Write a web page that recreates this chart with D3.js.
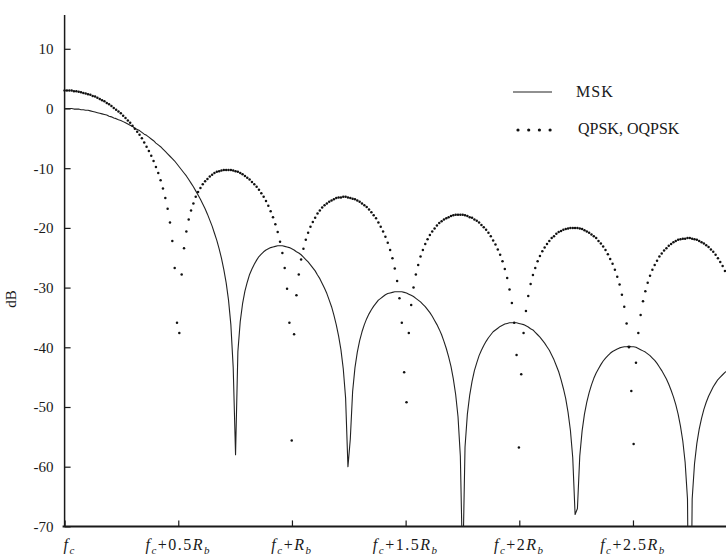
<!DOCTYPE html>
<html><head><meta charset="utf-8">
<script src="https://cdn.jsdelivr.net/npm/d3@7"></script>
<style>
body{margin:0;background:#fff;}
svg text{font-family:"Liberation Serif","Times New Roman",serif;fill:#1a1a1a;}
</style></head><body>
<svg id="chart" width="726" height="559"></svg>
<script>
// sample spacing of both spectra, in units of Rb (offset from fc)
const sampleStepRb = 0.0103;

// QPSK / OQPSK power spectral density (dB), one value per sample
const qpskDb = [
3.0,3.0,3.0,3.0,2.9,2.9,2.8,2.7,2.6,2.5,
2.4,2.3,2.1,2.0,1.8,1.6,1.4,1.2,0.9,0.7,
0.4,0.1,-0.2,-0.5,-0.8,-1.2,-1.6,-2.0,-2.4,-2.9,
-3.4,-3.9,-4.4,-5.0,-5.7,-6.4,-7.1,-7.9,-8.8,-9.8,
-10.8,-12.0,-13.4,-15.0,-16.8,-19.1,-22.2,-26.7,-35.9,-37.6,
-27.8,-23.4,-20.6,-18.6,-17.1,-15.9,-14.8,-14.0,-13.3,-12.7,
-12.2,-11.8,-11.4,-11.1,-10.8,-10.6,-10.5,-10.4,-10.3,-10.3,
-10.3,-10.3,-10.4,-10.5,-10.6,-10.8,-11.0,-11.3,-11.6,-11.9,
-12.3,-12.7,-13.1,-13.6,-14.2,-14.8,-15.5,-16.3,-17.2,-18.2,
-19.4,-20.7,-22.3,-24.2,-26.7,-30.2,-35.9,-55.6,-37.8,-31.3,
-27.8,-25.3,-23.5,-22.0,-20.8,-19.8,-19.0,-18.3,-17.6,-17.1,
-16.6,-16.2,-15.9,-15.6,-15.4,-15.2,-15.0,-14.9,-14.9,-14.8,
-14.8,-14.9,-15.0,-15.1,-15.2,-15.4,-15.6,-15.9,-16.2,-16.5,
-16.9,-17.4,-17.9,-18.4,-19.1,-19.8,-20.6,-21.5,-22.5,-23.7,
-25.1,-26.8,-28.9,-31.8,-35.9,-44.2,-49.2,-37.6,-32.9,-30.0,
-27.8,-26.2,-24.8,-23.7,-22.7,-21.9,-21.2,-20.6,-20.1,-19.6,
-19.2,-18.9,-18.6,-18.4,-18.2,-18.0,-17.9,-17.8,-17.8,-17.8,
-17.8,-17.9,-18.0,-18.2,-18.3,-18.6,-18.8,-19.1,-19.5,-19.9,
-20.3,-20.8,-21.4,-22.1,-22.8,-23.6,-24.5,-25.6,-26.9,-28.4,
-30.3,-32.6,-35.9,-41.3,-56.8,-44.5,-37.6,-33.9,-31.4,-29.4,
-27.9,-26.7,-25.6,-24.7,-23.9,-23.3,-22.7,-22.2,-21.7,-21.4,
-21.0,-20.7,-20.5,-20.3,-20.2,-20.1,-20.0,-20.0,-20.0,-20.0,
-20.1,-20.2,-20.4,-20.6,-20.8,-21.1,-21.4,-21.7,-22.2,-22.6,
-23.1,-23.7,-24.4,-25.2,-26.0,-27.0,-28.2,-29.5,-31.2,-33.2,
-36.0,-40.0,-47.3,-56.2,-42.6,-37.6,-34.6,-32.3,-30.6,-29.2,
-28.0,-27.0,-26.2,-25.5,-24.8,-24.3,-23.8,-23.4,-23.0,-22.7,
-22.4,-22.2,-22.0,-21.9,-21.8,-21.8,-21.7,-21.7,-21.8,-21.9,
-22.0,-22.2,-22.4,-22.6,-22.9,-23.2,-23.6,-24.0,-24.5,-25.1,
-25.7,-26.4,-27.2,-28.1
];

// MSK power spectral density (dB), one value per sample
const mskDb = [
0.0,0.0,0.0,0.0,-0.1,-0.1,-0.1,-0.2,-0.2,-0.3,
-0.3,-0.4,-0.5,-0.6,-0.7,-0.8,-0.9,-1.0,-1.1,-1.3,
-1.4,-1.6,-1.7,-1.9,-2.0,-2.2,-2.4,-2.6,-2.8,-3.0,
-3.3,-3.5,-3.7,-4.0,-4.3,-4.5,-4.8,-5.1,-5.4,-5.8,
-6.1,-6.4,-6.8,-7.2,-7.6,-8.0,-8.4,-8.8,-9.3,-9.8,
-10.3,-10.8,-11.3,-11.9,-12.5,-13.1,-13.8,-14.5,-15.2,-16.0,
-16.8,-17.7,-18.7,-19.7,-20.9,-22.1,-23.5,-25.1,-27.0,-29.2,
-32.1,-36.2,-43.4,-58.0,-40.7,-35.7,-32.7,-30.6,-29.1,-27.8,
-26.9,-26.1,-25.4,-24.8,-24.4,-24.0,-23.7,-23.5,-23.3,-23.2,
-23.1,-23.0,-23.0,-23.0,-23.1,-23.2,-23.3,-23.5,-23.7,-24.0,
-24.2,-24.5,-24.9,-25.3,-25.7,-26.2,-26.7,-27.2,-27.9,-28.5,
-29.3,-30.1,-31.0,-32.1,-33.2,-34.6,-36.2,-38.1,-40.4,-43.6,
-48.5,-60.0,-55.4,-47.4,-43.4,-40.8,-38.9,-37.4,-36.2,-35.2,
-34.4,-33.7,-33.1,-32.6,-32.1,-31.8,-31.5,-31.2,-31.0,-30.9,
-30.8,-30.7,-30.7,-30.7,-30.7,-30.8,-30.9,-31.1,-31.3,-31.5,
-31.8,-32.1,-32.4,-32.8,-33.2,-33.7,-34.2,-34.8,-35.5,-36.2,
-37.0,-37.9,-39.0,-40.2,-41.6,-43.2,-45.3,-47.9,-51.6,-58.2,
-77.7,-56.7,-51.2,-48.0,-45.7,-43.9,-42.6,-41.4,-40.5,-39.7,
-39.0,-38.4,-37.9,-37.4,-37.1,-36.8,-36.5,-36.3,-36.1,-36.0,
-35.9,-35.9,-35.9,-35.9,-36.0,-36.1,-36.2,-36.4,-36.6,-36.9,
-37.1,-37.5,-37.9,-38.3,-38.8,-39.3,-39.9,-40.5,-41.3,-42.1,
-43.1,-44.1,-45.4,-46.9,-48.6,-50.9,-53.9,-58.5,-68.0,-67.0,
-58.2,-54.0,-51.2,-49.2,-47.6,-46.3,-45.2,-44.3,-43.6,-42.9,
-42.3,-41.8,-41.4,-41.0,-40.7,-40.5,-40.3,-40.1,-40.0,-39.9,
-39.9,-39.8,-39.9,-39.9,-40.0,-40.2,-40.4,-40.6,-40.8,-41.1,
-41.4,-41.8,-42.2,-42.7,-43.3,-43.9,-44.6,-45.3,-46.2,-47.2,
-48.3,-49.6,-51.2,-53.2,-55.7,-59.3,-65.4,-105.6,-65.4,-59.5,
-56.1,-53.7,-51.9,-50.4,-49.2,-48.2,-47.4,-46.6,-46.0,-45.4,
-45.0,-44.6,-44.2,-43.9
];

const yTickValues = [10, 0, -10, -20, -30, -40, -50, -60, -70];
const xTickValues = [0, 0.5, 1, 1.5, 2, 2.5];
const xTickCoefs = ["", "0.5", "", "1.5", "2", "2.5"];
const legendLabels = ["MSK", "QPSK, OQPSK"];
const yAxisTitle = "dB";

const svg = d3.select("#chart");
const x = d3.scaleLinear().domain([0, 2.9092]).range([64.6, 726]);
const y = d3.scaleLinear().domain([-70, 15.66]).range([526.4, 15]);
const ink = "#1a1a1a";

svg.append("defs").append("clipPath").attr("id", "plotClip")
  .append("rect").attr("x", 60).attr("y", 0).attr("width", 670).attr("height", y(-70));

// y axis
const yAxis = svg.append("g").attr("transform", `translate(${x(0)},0)`)
  .call(d3.axisLeft(y).tickValues(yTickValues).tickSize(-6).tickPadding(11)
        .tickFormat(d => String(d)));
yAxis.select(".domain").remove();
yAxis.selectAll(".tick line").attr("stroke", ink).attr("stroke-width", 1.2);
yAxis.selectAll(".tick text").attr("font-size", 15).attr("fill", ink)
  .attr("font-family", "Liberation Serif, serif");
svg.append("line").attr("x1", x(0)).attr("x2", x(0)).attr("y1", y(15.66)).attr("y2", y(-70))
  .attr("stroke", ink).attr("stroke-width", 1.5);

// x axis
const xAxis = svg.append("g").attr("transform", `translate(0,${y(-70)})`)
  .call(d3.axisBottom(x).tickValues(xTickValues).tickSize(-6).tickFormat(""));
xAxis.select(".domain").remove();
xAxis.selectAll(".tick line").attr("stroke", ink).attr("stroke-width", 1.2);
svg.append("line").attr("x1", x(0) - 2).attr("x2", 726).attr("y1", y(-70)).attr("y2", y(-70))
  .attr("stroke", ink).attr("stroke-width", 2);

// x tick labels  f_c + k R_b
xTickValues.forEach((v, i) => {
  const t = svg.append("text").attr("x", x(v) + (i === 0 ? 5 : 0)).attr("y", 550)
    .attr("text-anchor", "middle").attr("font-size", 16).attr("letter-spacing", 1.5);
  t.append("tspan").attr("font-style", "italic").text("f");
  t.append("tspan").attr("font-style", "italic").attr("font-size", 11).attr("dy", 3.5).text("c");
  if (i > 0) {
    t.append("tspan").attr("dy", -3.5).text("+" + xTickCoefs[i]);
    t.append("tspan").attr("font-style", "italic").text("R");
    t.append("tspan").attr("font-style", "italic").attr("font-size", 11).attr("dy", 3.5).text("b");
  }
});

// y axis title
svg.append("text").attr("transform", "translate(16,299) rotate(-90)")
  .attr("text-anchor", "middle").attr("font-size", 15).text(yAxisTitle);

const plot = svg.append("g").attr("clip-path", "url(#plotClip)");

// MSK line
plot.append("path").datum(mskDb)
  .attr("fill", "none").attr("stroke", "#222").attr("stroke-width", 1.1)
  .attr("stroke-linejoin", "round")
  .attr("d", d3.line().x((d, i) => x(i * sampleStepRb)).y(d => y(d)));

// QPSK dots
plot.selectAll("circle.q").data(qpskDb).join("circle").attr("class", "q")
  .attr("cx", (d, i) => x(i * sampleStepRb)).attr("cy", d => y(d))
  .attr("r", 1.25).attr("fill", "#111");

// legend
const lg = svg.append("g");
lg.append("line").attr("x1", 513).attr("x2", 552).attr("y1", 92).attr("y2", 92)
  .attr("stroke", "#222").attr("stroke-width", 1.1);
lg.selectAll("circle").data([0, 1, 2, 3]).join("circle")
  .attr("cx", d => 518 + d * 10.7).attr("cy", 130).attr("r", 1.6).attr("fill", "#111");
lg.append("text").attr("x", 576).attr("y", 97).attr("font-size", 16).attr("letter-spacing", 1).text(legendLabels[0]);
lg.append("text").attr("x", 578).attr("y", 134).attr("font-size", 16).text(legendLabels[1]);
</script>
</body></html>
